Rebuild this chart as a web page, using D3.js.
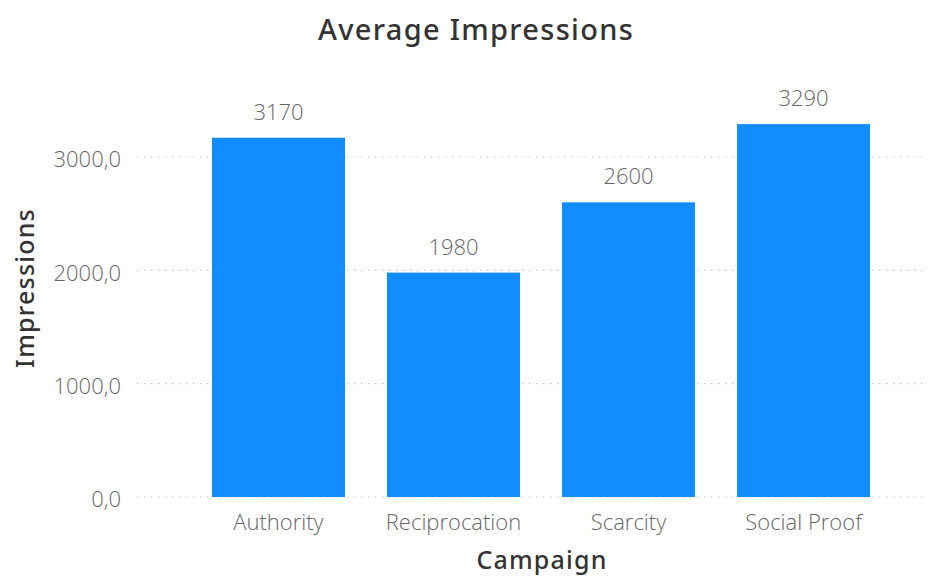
<!DOCTYPE html>
<html>
<head>
<meta charset="utf-8">
<script src="https://cdn.jsdelivr.net/npm/d3@7"></script>
<style>
  html, body { margin: 0; padding: 0; background: #fff; }
  svg { display: block; }
</style>
</head>
<body>
<svg id="chart" width="931" height="576"></svg>
<script>
// Average impressions per campaign
const categories = ["Authority", "Reciprocation", "Scarcity", "Social Proof"];
const impressions = [3170, 1980, 2600, 3290];
const yTicks = [0, 1000, 2000, 3000];

const svg = d3.select("#chart");

const x = d3.scaleBand()
  .domain(categories)
  .range([191, 891])
  .paddingInner(0.24)
  .paddingOuter(0.12);

const y = d3.scaleLinear()
  .domain([0, 3000])
  .range([497, 157]);

const fmt = v => d3.format(".1f")(v).replace(".", ",");
const labelFont = "'Open Sans', sans-serif";
const titleFont = "'Noto Sans', sans-serif";

// gridlines
svg.append("g").selectAll("line")
  .data(yTicks)
  .enter().append("line")
  .attr("x1", 137).attr("x2", 927)
  .attr("y1", d => y(d)).attr("y2", d => y(d))
  .attr("stroke", "#c8c6c4")
  .attr("stroke-width", 1.2)
  .attr("stroke-dasharray", "1.5,5.5");

// y axis labels
const yAxis = d3.axisLeft(y).tickValues(yTicks).tickFormat(fmt).tickSize(0).tickPadding(0);
const yg = svg.append("g").attr("transform", "translate(121,0)").call(yAxis);
yg.select(".domain").remove();
yg.selectAll("text")
  .attr("dy", "0.45em")
  .attr("fill", "#666666")
  .style("font-family", labelFont)
  .style("font-weight", 300)
  .style("font-size", "22px");

// bars
svg.append("g").selectAll("rect")
  .data(categories)
  .enter().append("rect")
  .attr("x", d => x(d))
  .attr("width", x.bandwidth())
  .attr("y", (d, i) => y(impressions[i]))
  .attr("height", (d, i) => y(0) - y(impressions[i]))
  .attr("fill", "#118dff");

// value labels
svg.append("g").selectAll("text")
  .data(categories)
  .enter().append("text")
  .attr("x", d => x(d) + x.bandwidth() / 2)
  .attr("y", (d, i) => y(impressions[i]) - 18)
  .attr("text-anchor", "middle")
  .attr("fill", "#666666")
  .style("font-family", labelFont)
  .style("font-weight", 300)
  .style("font-size", "22px")
  .text((d, i) => impressions[i]);

// x axis labels
const xAxis = d3.axisBottom(x).tickSize(0).tickPadding(0);
const xg = svg.append("g").attr("transform", "translate(0,530)").call(xAxis);
xg.select(".domain").remove();
xg.selectAll("text")
  .attr("dy", 0)
  .attr("fill", "#666666")
  .style("font-family", labelFont)
  .style("font-weight", 300)
  .style("font-size", "22px");

// title
svg.append("text")
  .attr("x", 476).attr("y", 40)
  .attr("text-anchor", "middle")
  .attr("fill", "#333333")
  .style("font-family", titleFont)
  .style("font-weight", 500)
  .style("font-size", "29px")
  .style("letter-spacing", "1.3px")
  .text("Average Impressions");

// axis titles
svg.append("text")
  .attr("x", 542).attr("y", 569)
  .attr("text-anchor", "middle")
  .attr("fill", "#333333")
  .style("font-family", titleFont)
  .style("font-weight", 500)
  .style("font-size", "25px")
  .style("letter-spacing", "1.2px")
  .text("Campaign");

svg.append("text")
  .attr("transform", "translate(34,288) rotate(-90)")
  .attr("text-anchor", "middle")
  .attr("fill", "#333333")
  .style("font-family", titleFont)
  .style("font-weight", 500)
  .style("font-size", "25px")
  .style("letter-spacing", "1.2px")
  .text("Impressions");
</script>
</body>
</html>
